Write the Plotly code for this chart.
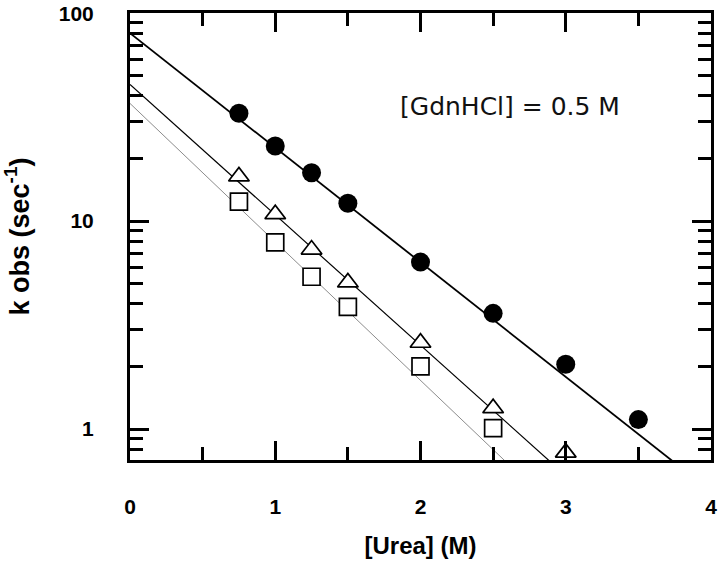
import plotly.graph_objects as go

# [Urea] (M) and observed rate constants (sec^-1)
urea_circle = [0.75, 1.0, 1.25, 1.5, 2.0, 2.5, 3.0, 3.5]
kobs_circle = [33.0, 23.0, 17.1, 12.2, 6.35, 3.6, 2.05, 1.11]
urea_tri = [0.75, 1.0, 1.25, 1.5, 2.0, 2.5, 3.0]
kobs_tri = [16.4, 10.8, 7.3, 5.07, 2.6, 1.26, 0.77]
urea_sq = [0.75, 1.0, 1.25, 1.5, 2.0, 2.5]
kobs_sq = [12.4, 7.9, 5.4, 3.87, 2.0, 1.01]

# fitted lines: log10(k) = a + b*[Urea]
fit_circle = (1.904, -0.551)
fit_tri = (1.657, -0.627)
fit_sq = (1.566, -0.666)
fit_x = [0, 4]

def fit_line(p):
    return [10 ** (p[0] + p[1] * x) for x in fit_x]

fig = go.Figure()
fig.add_trace(go.Scatter(x=fit_x, y=fit_line(fit_sq), mode='lines', line=dict(color='#8c8c8c', width=1), showlegend=False))
fig.add_trace(go.Scatter(x=fit_x, y=fit_line(fit_tri), mode='lines', line=dict(color='black', width=1.2), showlegend=False))
fig.add_trace(go.Scatter(x=fit_x, y=fit_line(fit_circle), mode='lines', line=dict(color='black', width=1.8), showlegend=False))
fig.add_trace(go.Scatter(x=urea_sq, y=kobs_sq, mode='markers', showlegend=False,
                         marker=dict(symbol='square', size=17, color='white', line=dict(color='black', width=1.7))))
fig.add_trace(go.Scatter(x=urea_tri, y=kobs_tri, mode='markers', showlegend=False,
                         marker=dict(symbol='triangle-up', size=18, color='white', line=dict(color='black', width=1.7))))
fig.add_trace(go.Scatter(x=urea_circle, y=kobs_circle, mode='markers', showlegend=False,
                         marker=dict(symbol='circle', size=19, color='black')))

fig.add_annotation(x=2.615, y=1.553, yref='y', xref='x', text='[GdnHCl] = 0.5 M', showarrow=False,
                   font=dict(family='DejaVu Sans', size=25, color='#111'))

minor_y = [m * 10 ** e for e in (-1, 0, 1) for m in range(2, 10) if m * 10 ** e >= 0.7]
fig.update_layout(
    width=720, height=568, plot_bgcolor='white', paper_bgcolor='white',
    margin=dict(l=130, r=9, t=13, b=108),
    font=dict(family='Liberation Sans, Arial', color='black'),
    xaxis=dict(range=[0, 4], tickvals=[0, 1, 2, 3, 4], ticks='inside', ticklen=19, tickwidth=3,
               tickcolor='black', mirror='ticks', showline=True, linewidth=3, linecolor='black',
               showgrid=False, zeroline=False, ticklabelstandoff=26, automargin=False,
               ticklabeloverflow='allow',
               tickfont=dict(size=21, family='Liberation Sans, Arial', weight='bold'),
               minor=dict(tickvals=[0.5, 1.5, 2.5, 3.5], ticks='inside', ticklen=13, tickwidth=3, tickcolor='black', showgrid=False),
               title=dict(text='<b>[Urea] (M)</b>', font=dict(size=24), standoff=20)),
    yaxis=dict(type='log', range=[-0.149, 2.001], tickvals=[1, 10, 100], ticktext=['1', '10', '100'],
               ticks='inside', ticklen=19, tickwidth=3, tickcolor='black', mirror='ticks',
               showline=True, linewidth=3, linecolor='black', showgrid=False, zeroline=False,
               ticklabelstandoff=29, automargin=False, ticklabeloverflow='allow',
               tickfont=dict(size=21, family='Liberation Sans, Arial', weight='bold'),
               minor=dict(tickvals=minor_y, ticks='inside', ticklen=13, tickwidth=3, tickcolor='black', showgrid=False),
               title=dict(text='<b>k obs (sec<sup>-1</sup>)</b>', font=dict(size=27), standoff=22)),
)
# drop the default page margin so the figure sits at the window's corner
fig.write_html("out.html", config={'displayModeBar': False},
               post_script="document.body.style.margin='0px';")
